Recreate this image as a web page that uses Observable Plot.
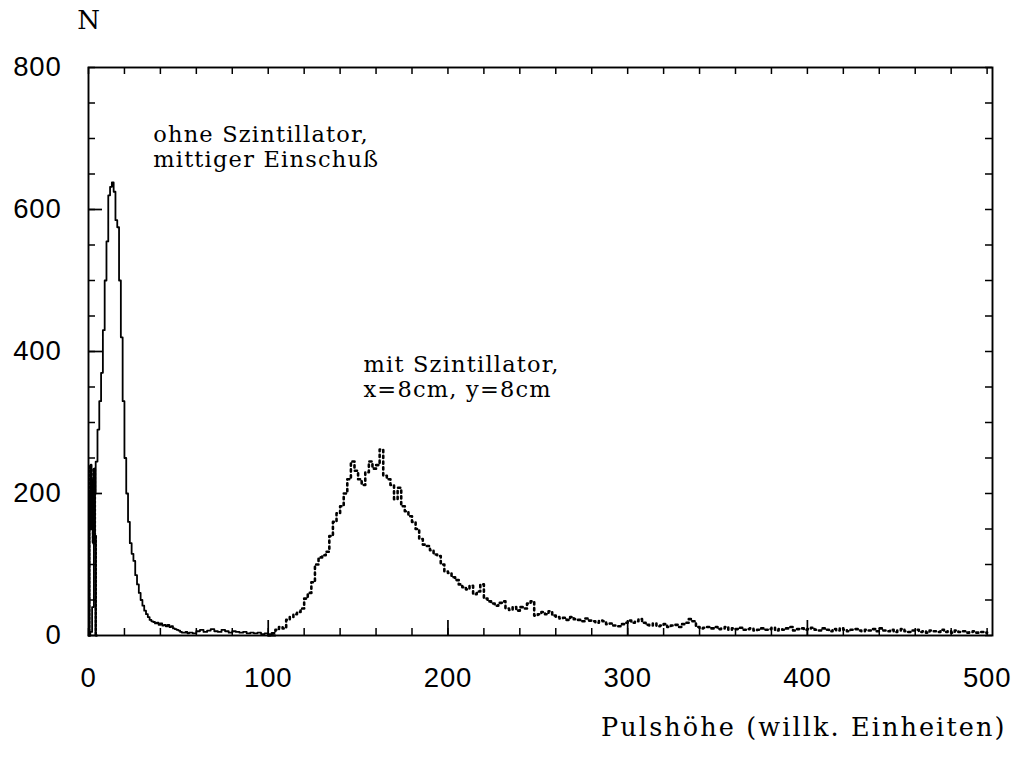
<!DOCTYPE html>
<html><head><meta charset="utf-8">
<script src="https://cdn.jsdelivr.net/npm/d3@7"></script>
<script src="https://cdn.jsdelivr.net/npm/@observablehq/plot@0.6"></script>
<style>
body{margin:0;background:#fff;}
g[font-size="22.5"] text{letter-spacing:1.2px;}
g[font-size="25.5"] text{letter-spacing:2.1px;}
g[font-size="27.5"] text{letter-spacing:0.8px;}
</style>
</head><body><div id="chart"></div>
<script>
// ---- tick labels & text ----
const xTickLabels = [0, 100, 200, 300, 400, 500];
const yTickLabels = [0, 200, 400, 600, 800];
const xMinorTicks = d3.range(0, 501, 20);
const xMajorTicks = [100, 200, 300, 400];
const yMinorTicks = d3.range(0, 801, 50);
const yMajorTicks = [200, 400, 600];
const yAxisTitle = "N";
const xAxisTitle = "Pulshöhe (willk. Einheiten)";
const labelSolid = "ohne Szintillator,\nmittiger Einschuß";
const labelDotted = "mit Szintillator,\nx=8cm, y=8cm";

// ---- series: "ohne Szintillator" (solid), bins of width 1 starting at 0 ----
const solidStart = 0, solidWidth = 1;
const solidCounts = [
  0, 5, 40, 200, 245, 290, 330, 370, 430, 500,
  555, 620, 632, 638, 625, 585, 575, 500, 420, 330,
  250, 200, 160, 130, 115, 105, 85, 72, 60, 50,
  42, 35, 30, 26, 22, 20, 19, 17, 18, 15,
  17, 14, 15, 13, 15, 12, 13, 10, 9, 8,
  7, 5, 4, 4, 5, 3, 4, 4, 3, 3
];
// tail of solid, bins of width 2 starting at 60
const solidTailStart = 60, solidTailWidth = 2;
const solidTailCounts = [6, 8, 5, 7, 9, 6, 5, 8, 6, 4, 6, 5, 4, 5, 3, 4, 3, 4, 2, 3, 2, 0];

// ---- series: "mit Szintillator" (dotted) ----
const dottedLowStart = 0.5, dottedLowWidth = 0.5;
const dottedLowCounts = [200, 240, 150, 220, 130, 235, 140, 0];
const dottedStart = 100, dottedWidth = 2;
const dottedCounts = [
  0, 3, 8, 12, 10, 22, 26, 30, 33, 38,
  52, 60, 75, 100, 110, 113, 118, 140, 160, 172,
  182, 200, 220, 245, 232, 220, 212, 230, 245, 235,
  240, 262, 225, 220, 212, 192, 208, 182, 175, 168,
  160, 150, 136, 128, 126, 120, 114, 112, 100, 90,
  88, 82, 78, 72, 68, 65, 70, 58, 62, 72,
  52, 48, 45, 42, 46, 48, 38, 36, 40, 35,
  40, 38, 45, 48, 28, 30, 33, 30, 34, 28,
  26, 24, 25, 22, 26, 23, 22, 20, 24, 21,
  20, 18, 21, 20, 16, 17, 14, 13, 16, 18,
  21, 18, 20, 23, 18, 15, 14, 17, 13, 14,
  16, 12, 14, 15, 12, 16, 18, 23, 20, 12,
  10, 11, 12, 10, 12, 9, 10, 12, 8, 10,
  9, 11, 8, 9, 10, 7, 8, 10, 8, 9,
  11, 7, 9, 8, 10, 12, 7, 9, 10, 8,
  9, 11, 8, 7, 10, 8, 6, 9, 7, 10,
  8, 6, 8, 9, 7, 6, 8, 7, 9, 6,
  10, 7, 6, 8, 5, 7, 9, 6, 5, 7,
  8, 5, 6, 4, 7, 6, 5, 8, 5, 6,
  4, 7, 5, 6, 4, 5, 6, 4, 5, 4
];

// build step points (bin start, count) + closing edge
function steps(start, width, counts) {
  const pts = counts.map((c, i) => ({x: start + i * width, y: c}));
  pts.push({x: start + counts.length * width, y: counts[counts.length - 1]});
  return pts;
}
const solidPts = steps(solidStart, solidWidth, solidCounts)
  .slice(0, -1)
  .concat(steps(solidTailStart, solidTailWidth, solidTailCounts));
const dottedLowPts = [{x: dottedLowStart, y: 0}].concat(steps(dottedLowStart, dottedLowWidth, dottedLowCounts));
const dottedPts = steps(dottedStart, dottedWidth, dottedCounts);

const W = 1016, H = 763;
const mL = 88, mR = 24, mT = 67, mB = 128;
const fw = W - mL - mR, fh = H - mT - mB;
const serif = "DejaVu Serif";
const sans = "Liberation Sans";

const plot = Plot.plot({
  width: W, height: H,
  marginLeft: mL, marginRight: mR, marginTop: mT, marginBottom: mB,
  x: {domain: [0, 503], axis: null},
  y: {domain: [0, 800], axis: null},
  style: {background: "#fff", color: "#000", overflow: "visible"},
  marks: [
    Plot.frame({stroke: "#000", strokeWidth: 1.9}),
    // ticks (inward)
    Plot.ruleX(xMinorTicks, {x: d => d, insetTop: fh - 7, stroke: "#000", strokeWidth: 1.5}),
    Plot.ruleX(xMajorTicks, {x: d => d, insetTop: fh - 15, stroke: "#000", strokeWidth: 1.7}),
    Plot.ruleX(xMinorTicks, {x: d => d, insetBottom: fh - 7, stroke: "#000", strokeWidth: 1.5}),
    Plot.ruleY(yMinorTicks, {y: d => d, insetRight: fw - 7, stroke: "#000", strokeWidth: 1.5}),
    Plot.ruleY(yMajorTicks, {y: d => d, insetRight: fw - 14, stroke: "#000", strokeWidth: 1.7}),
    Plot.ruleY(yMinorTicks, {y: d => d, insetLeft: fw - 7, stroke: "#000", strokeWidth: 1.5}),
    // series
    Plot.line(solidPts, {x: "x", y: "y", curve: "step-after", stroke: "#000", strokeWidth: 1.8}),
    Plot.line(dottedLowPts, {x: "x", y: "y", curve: "step-after", stroke: "#000", strokeWidth: 2.6, strokeDasharray: "2.5,1.5"}),
    Plot.line(dottedPts, {x: "x", y: "y", curve: "step-after", stroke: "#000", strokeWidth: 2.6, strokeDasharray: "2.2,3.6"}),
    // tick labels
    Plot.text(xTickLabels, {x: d => d, text: d => String(d), frameAnchor: "bottom", lineAnchor: "middle", dy: 43, fontFamily: sans, fontSize: 27.5, fill: "#000"}),
    Plot.text(yTickLabels, {y: d => d, text: d => String(d), frameAnchor: "left", textAnchor: "end", lineAnchor: "middle", dx: -27, fontFamily: sans, fontSize: 27.5, fill: "#000"}),
    // axis titles
    Plot.text([yAxisTitle], {text: d => d, frameAnchor: "top-left", textAnchor: "middle", lineAnchor: "middle", dy: -47, fontFamily: serif, fontSize: 26, fill: "#000"}),
    Plot.text([xAxisTitle], {text: d => d, frameAnchor: "bottom-right", textAnchor: "end", lineAnchor: "bottom", dx: 14, dy: 100, fontFamily: serif, fontSize: 25.5, fill: "#000"}),
    // annotations
    Plot.text([labelSolid], {x: 36, y: 720, text: d => d, textAnchor: "start", lineAnchor: "top", lineHeight: 1.12, fontFamily: serif, fontSize: 22.5, fill: "#000"}),
    Plot.text([labelDotted], {x: 153, y: 397, text: d => d, textAnchor: "start", lineAnchor: "top", lineHeight: 1.12, fontFamily: serif, fontSize: 22.5, fill: "#000"})
  ]
});
document.getElementById("chart").appendChild(plot);
</script>
</body></html>
